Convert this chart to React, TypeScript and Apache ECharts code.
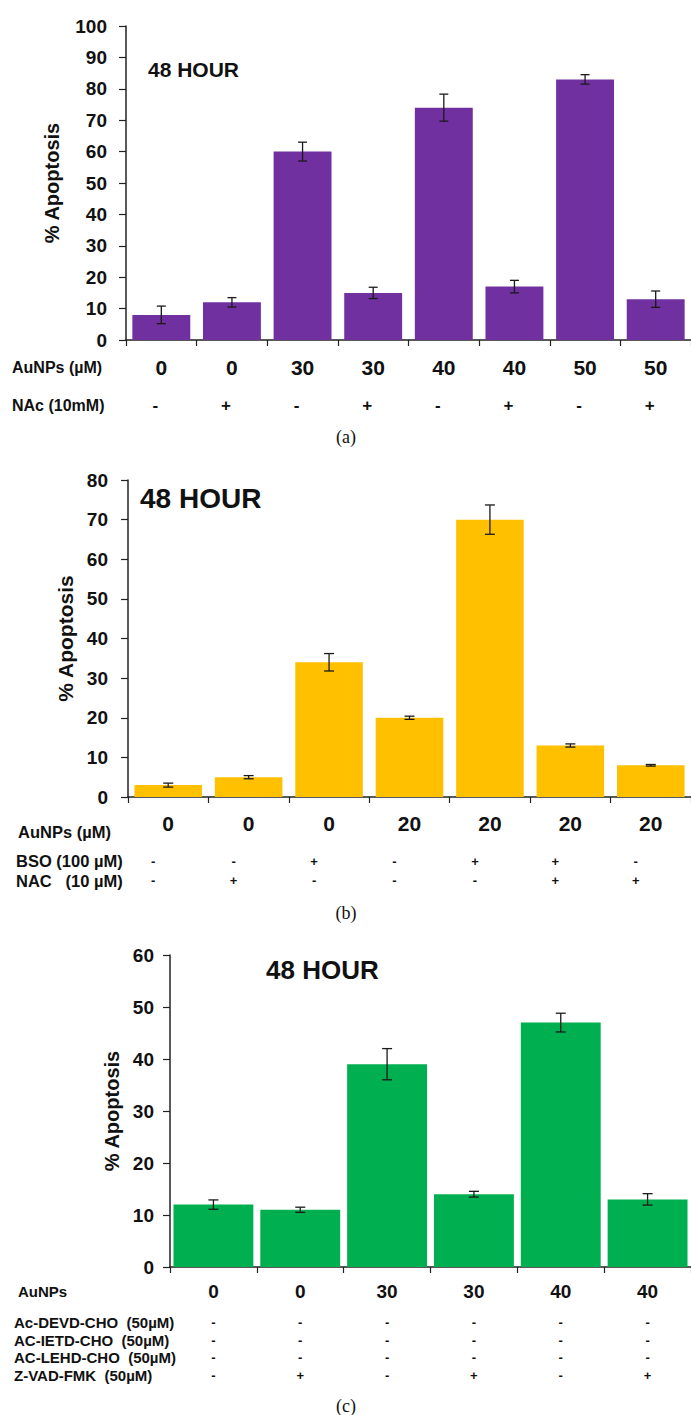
import React, { useEffect, useRef } from 'react';
import * as echarts from 'echarts';

const SANS = '"Liberation Sans", Arial, Helvetica, sans-serif';
const SERIF = '"Liberation Serif", "Times New Roman", serif';

// ---------- Panel (a) ----------
const aAuNPs = ['0', '0', '30', '30', '40', '40', '50', '50'];
const aNAc = ['-', '+', '-', '+', '-', '+', '-', '+'];
const aValues = [8, 12, 60, 15, 74, 17, 83, 13];
const aErrors = [2.8, 1.5, 3, 1.8, 4.3, 2, 1.5, 2.6];

// ---------- Panel (b) ----------
const bAuNPs = ['0', '0', '0', '20', '20', '20', '20'];
const bBSO = ['-', '-', '+', '-', '+', '+', '-'];
const bNAC = ['-', '+', '-', '-', '-', '+', '+'];
const bValues = [3, 5, 34, 20, 70, 13, 8];
const bErrors = [0.5, 0.4, 2.2, 0.4, 3.7, 0.4, 0.2];

// ---------- Panel (c) ----------
const cAuNPs = ['0', '0', '30', '30', '40', '40'];
const cDEVD = ['-', '-', '-', '-', '-', '-'];
const cIETD = ['-', '-', '-', '-', '-', '-'];
const cLEHD = ['-', '-', '-', '-', '-', '-'];
const cZVAD = ['-', '+', '-', '+', '-', '+'];
const cValues = [12, 11, 39, 14, 47, 13];
const cErrors = [0.9, 0.5, 3, 0.55, 1.8, 1.1];

const yMaxes = [100, 80, 60];
const yInterval = 10;
const yTitle = '% Apoptosis';
const panelTitle = '48 HOUR';

type Row = { data: string[]; center: number; fs: number; shift: number };
type Panel = {
  grid: { left: number; top: number; width: number; height: number };
  yMax: number;
  cats: string[];
  values: number[];
  errors: number[];
  color: string;
  gap: string;
  yLabelSize: number;
  yLabelMargin: number;
  nameGap: number;
  nameSize: number;
  valSize: number;
  valCenter: number;
  capHalf: number;
  rows: Row[];
  headers: { text: string; x: number; y: number; fs: number }[];
  title: { x: number; y: number; fs: number };
  caption: { text: string; x: number; y: number };
};

const panels: Panel[] = [
  {
    grid: { left: 126, top: 26, width: 566, height: 314 },
    yMax: yMaxes[0],
    cats: aAuNPs,
    values: aValues,
    errors: aErrors,
    color: '#7030A0',
    gap: '18%',
    yLabelSize: 19,
    yLabelMargin: 19,
    nameGap: 64,
    nameSize: 20,
    valSize: 21,
    valCenter: 367,
    capHalf: 4.5,
    rows: [{ data: aNAc, center: 405, fs: 17, shift: 6 }],
    headers: [
      { text: 'AuNPs (µM)', x: 12, y: 367, fs: 16 },
      { text: 'NAc (10mM)', x: 12, y: 405, fs: 16 },
    ],
    title: { x: 148, y: 69, fs: 21 },
    caption: { text: '(a)', x: 346, y: 437 },
  },
  {
    grid: { left: 128, top: 480, width: 567, height: 317 },
    yMax: yMaxes[1],
    cats: bAuNPs,
    values: bValues,
    errors: bErrors,
    color: '#FFC000',
    gap: '16%',
    yLabelSize: 19,
    yLabelMargin: 20,
    nameGap: 49,
    nameSize: 21,
    valSize: 21,
    valCenter: 823,
    capHalf: 5,
    rows: [
      { data: bBSO, center: 861, fs: 13, shift: 15 },
      { data: bNAC, center: 880, fs: 13, shift: 15 },
    ],
    headers: [
      { text: 'AuNPs (µM)', x: 18, y: 832, fs: 16.5 },
      { text: 'BSO (100 µM)', x: 16, y: 861, fs: 16.5 },
      { text: 'NAC   (10 µM)', x: 16, y: 881, fs: 16.5 },
    ],
    title: { x: 140, y: 498, fs: 28 },
    caption: { text: '(b)', x: 346, y: 913 },
  },
  {
    grid: { left: 170, top: 955, width: 522, height: 312 },
    yMax: yMaxes[2],
    cats: cAuNPs,
    values: cValues,
    errors: cErrors,
    color: '#00B050',
    gap: '8%',
    yLabelSize: 19,
    yLabelMargin: 16,
    nameGap: 42,
    nameSize: 20,
    valSize: 19,
    valCenter: 1291,
    capHalf: 5,
    rows: [
      { data: cDEVD, center: 1322, fs: 13, shift: 0 },
      { data: cIETD, center: 1340, fs: 13, shift: 0 },
      { data: cLEHD, center: 1357, fs: 13, shift: 0 },
      { data: cZVAD, center: 1375, fs: 13, shift: 0 },
    ],
    headers: [
      { text: 'AuNPs', x: 18, y: 1291, fs: 15 },
      { text: 'Ac-DEVD-CHO  (50µM)', x: 14, y: 1322, fs: 15 },
      { text: 'AC-IETD-CHO  (50µM)', x: 14, y: 1340, fs: 15 },
      { text: 'AC-LEHD-CHO  (50µM)', x: 14, y: 1357, fs: 15 },
      { text: 'Z-VAD-FMK  (50µM)', x: 14, y: 1375, fs: 15 },
    ],
    title: { x: 266, y: 970, fs: 26 },
    caption: { text: '(c)', x: 346, y: 1406 },
  },
];

function buildOption() {
  const grid: any[] = [];
  const xAxis: any[] = [];
  const yAxis: any[] = [];
  const series: any[] = [];
  const graphic: any[] = [];
  const axisColor = '#222';

  panels.forEach((p, g) => {
    grid.push({ ...p.grid, containLabel: false });
    const axisY = p.grid.top + p.grid.height;
    const idx = p.cats.map((_, i) => String(i));
    const mainX = xAxis.length;
    xAxis.push({
      type: 'category',
      gridIndex: g,
      data: idx,
      position: 'bottom',
      axisLine: { show: true, lineStyle: { color: axisColor, width: 1.5 } },
      axisTick: { show: true, length: 6, lineStyle: { color: axisColor, width: 1.2 } },
      splitLine: { show: false },
      axisLabel: {
        interval: 0,
        margin: p.valCenter - axisY - p.valSize / 2,
        fontSize: p.valSize,
        fontWeight: 'bold',
        fontFamily: SANS,
        color: '#111',
        formatter: (_v: string, i: number) => p.cats[i],
      },
    });
    p.rows.forEach((r) => {
      xAxis.push({
        type: 'category',
        gridIndex: g,
        data: idx,
        position: 'bottom',
        offset: r.center - axisY - r.fs / 2,
        axisLine: { show: false },
        axisTick: { show: false },
        splitLine: { show: false },
        axisLabel: {
          interval: 0,
          margin: 0,
          fontSize: r.fs,
          fontWeight: 'bold',
          fontFamily: SANS,
          color: '#111',
          padding: [0, r.shift * 2, 0, 0],
          formatter: (_v: string, i: number) => r.data[i],
        },
      });
    });
    yAxis.push({
      type: 'value',
      gridIndex: g,
      min: 0,
      max: p.yMax,
      interval: yInterval,
      axisLine: { show: true, lineStyle: { color: axisColor, width: 1.5 } },
      axisTick: { show: true, length: 7, lineStyle: { color: axisColor, width: 1.2 } },
      splitLine: { show: false },
      axisLabel: {
        margin: p.yLabelMargin,
        fontSize: p.yLabelSize,
        fontWeight: 'bold',
        fontFamily: SANS,
        color: '#111',
      },
      name: yTitle,
      nameLocation: 'middle',
      nameGap: p.nameGap,
      nameTextStyle: {
        fontSize: p.nameSize,
        fontWeight: 'bold',
        fontFamily: SANS,
        color: '#111',
      },
    });
    series.push({
      type: 'bar',
      xAxisIndex: mainX,
      yAxisIndex: g,
      data: p.values,
      barCategoryGap: p.gap,
      itemStyle: { color: p.color },
      z: 2,
    });
    const cap = p.capHalf;
    series.push({
      type: 'custom',
      xAxisIndex: mainX,
      yAxisIndex: g,
      data: p.values.map((v, i) => [i, v - p.errors[i], v + p.errors[i]]),
      encode: { x: 0, y: [1, 2] },
      z: 5,
      renderItem: (_params: any, api: any) => {
        const lo = api.coord([api.value(0), api.value(1)]);
        const hi = api.coord([api.value(0), api.value(2)]);
        const st = { stroke: '#1a1a1a', lineWidth: 1.3 };
        return {
          type: 'group',
          children: [
            { type: 'line', shape: { x1: lo[0], y1: lo[1], x2: hi[0], y2: hi[1] }, style: st },
            { type: 'line', shape: { x1: lo[0] - cap, y1: lo[1], x2: lo[0] + cap, y2: lo[1] }, style: st },
            { type: 'line', shape: { x1: hi[0] - cap, y1: hi[1], x2: hi[0] + cap, y2: hi[1] }, style: st },
          ],
        };
      },
    });

    graphic.push({
      type: 'text',
      x: p.title.x,
      y: p.title.y,
      style: {
        text: panelTitle,
        fontSize: p.title.fs,
        fontWeight: 'bold',
        fontFamily: SANS,
        fill: '#111',
        verticalAlign: 'middle',
      },
    });
    p.headers.forEach((h) => {
      graphic.push({
        type: 'text',
        x: h.x,
        y: h.y,
        style: {
          text: h.text,
          fontSize: h.fs,
          fontWeight: 'bold',
          fontFamily: SANS,
          fill: '#111',
          verticalAlign: 'middle',
        },
      });
    });
    graphic.push({
      type: 'text',
      x: p.caption.x,
      y: p.caption.y,
      style: {
        text: p.caption.text,
        fontSize: 18,
        fontFamily: SERIF,
        fill: '#111',
        align: 'center',
        verticalAlign: 'middle',
      },
    });
  });

  return {
    animation: false,
    backgroundColor: '#ffffff',
    grid,
    xAxis,
    yAxis,
    series,
    graphic,
  };
}

export default function App() {
  const ref = useRef<HTMLDivElement>(null);
  useEffect(() => {
    if (!ref.current) return;
    const chart = echarts.init(ref.current, undefined, { renderer: 'svg' });
    chart.setOption(buildOption() as any);
    return () => chart.dispose();
  }, []);
  return (
    <div
      ref={ref}
      style={{ position: 'absolute', left: 0, top: 0, width: 691, height: 1415, background: '#fff' }}
    />
  );
}
